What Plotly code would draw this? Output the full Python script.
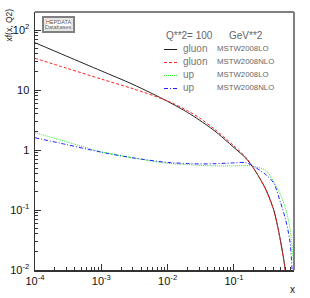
import plotly.graph_objects as go

# ---- data ----
x_vals = [1e-4, 3e-4, 1e-3, 3e-3, 1e-2, 2e-2, 3e-2, 5e-2, 0.1, 0.15, 0.2, 0.3, 0.4, 0.5, 0.6, 0.7, 0.8]
gluon_lo = [61.4, 36.6, 20.8, 12.4, 6.46, 4.22, 3.16, 2.12, 1.10, 0.735, 0.486, 0.224, 0.098, 0.032, 0.0093, 0.0021, 0.0003]
gluon_nlo = [33.7, 23.1, 15.2, 10.5, 6.56, 4.50, 3.44, 2.26, 1.17, 0.76, 0.49, 0.222, 0.097, 0.031, 0.0090, 0.0019, 0.00025]
up_lo = [1.94, 1.37, 0.93, 0.74, 0.60, 0.57, 0.556, 0.543, 0.543, 0.55, 0.53, 0.46, 0.29, 0.183, 0.105, 0.049, 0.011]
up_nlo = [1.60, 1.23, 0.92, 0.74, 0.62, 0.596, 0.586, 0.59, 0.61, 0.615, 0.53, 0.39, 0.277, 0.136, 0.069, 0.029, 0.0025]

series_names = ["gluon", "gluon", "up", "up"]
series_sets = ["MSTW2008LO", "MSTW2008NLO", "MSTW2008LO", "MSTW2008NLO"]
series_colors = ["#222222", "#ff2020", "#22ee22", "#2020ff"]
series_dash = ["solid", "3px,2px", "1px,1px", "4px,2px,1px,2px"]
series_data = [gluon_lo, gluon_nlo, up_lo, up_nlo]

y_tickvals = [0.01, 0.1, 1, 10, 100]
y_ticktext = ["10<sup>-2</sup>", "10<sup>-1</sup>", "1", "10", "10<sup>2</sup>"]
x_tickvals = [1e-4, 1e-3, 1e-2, 1e-1]
x_ticktext = ["10<sup>-4</sup>", "10<sup>-3</sup>", "10<sup>-2</sup>", "10<sup>-1</sup>"]

# ---- layout geometry (pixels) ----
W, H = 310, 298
L, R, T, B = 35, 294, 12, 270


def px(xp):
    return (xp - L) / (R - L)


def py(yp):
    return (B - yp) / (B - T)


fig = go.Figure()
for ys, c, d in zip(series_data, series_colors, series_dash):
    fig.add_trace(go.Scatter(x=x_vals, y=ys, mode="lines",
                             line=dict(color=c, width=1, dash=d, shape="spline", smoothing=0.8),
                             showlegend=False, hoverinfo="skip"))

minor_x = [m * 10 ** e for e in range(-4, 0) for m in range(2, 10)]
minor_y = [m * 10 ** e for e in range(-2, 3) for m in range(2, 10)]

fig.update_xaxes(type="log", range=[-4, -0.095], showgrid=False, zeroline=False, automargin=False,
                 tickmode="array", tickvals=x_tickvals, ticktext=x_ticktext,
                 ticks="inside", ticklen=6, tickcolor="#333", tickwidth=1,
                 showline=True, linecolor="#333", linewidth=1.5,
                 tickfont=dict(family="Liberation Sans", size=11, color="#111"),
                 minor=dict(tickmode="array", tickvals=minor_x, ticks="inside", ticklen=3,
                            tickcolor="#333", showgrid=False))
fig.update_yaxes(type="log", range=[-2, 2.3], showgrid=False, zeroline=False, automargin=False,
                 tickmode="array", tickvals=y_tickvals, ticktext=y_ticktext,
                 ticks="inside", ticklen=6, tickcolor="#333", tickwidth=1,
                 showline=True, linecolor="#333", linewidth=1.5, ticklabelstandoff=2,
                 tickfont=dict(family="Liberation Sans", size=11, color="#111"),
                 minor=dict(tickmode="array", tickvals=minor_y, ticks="inside", ticklen=3,
                            tickcolor="#333", showgrid=False))

shapes = []
annotations = []


def note(text, xp, yp, size, color, family="Liberation Sans", xanchor="left", angle=0):
    annotations.append(dict(text=text, xref="paper", yref="paper", x=px(xp), y=py(yp),
                            xanchor=xanchor, yanchor="middle", textangle=angle,
                            showarrow=False, borderpad=0,
                            font=dict(family=family, size=size, color=color)))


# frame top/right
shapes.append(dict(type="line", xref="paper", yref="paper", x0=0, x1=1, y0=1, y1=1,
                   line=dict(color="#808080", width=2)))
shapes.append(dict(type="line", xref="paper", yref="paper", x0=1, x1=1, y0=0, y1=1,
                   line=dict(color="#808080", width=2)))

# HEPDATA box
shapes.append(dict(type="rect", xref="paper", yref="paper", x0=px(43), x1=px(74), y0=py(32), y1=py(17),
                   line=dict(color="#808080", width=2), fillcolor="white"))
shapes.append(dict(type="rect", xref="paper", yref="paper", x0=px(45), x1=px(72), y0=py(30), y1=py(19),
                   line=dict(color="#aaaaaa", width=0.6)))
note("HEPDATA", 58.5, 21.8, 5.5, "#555", xanchor="center")
note("Databases", 58.5, 27.2, 5.5, "#555", xanchor="center")

# legend header
note("Q**2= 100", 165, 35, 10, "#666")
note("GeV**2", 228, 35, 10, "#666")
rows = [48.5, 61.5, 74.5, 87.5]
for r, n, s, c, d in zip(rows, series_names, series_sets, series_colors, series_dash):
    shapes.append(dict(type="line", xref="paper", yref="paper", x0=px(164), x1=px(177),
                       y0=py(r + 1), y1=py(r + 1), line=dict(color=c, width=1, dash=d)))
    note(n, 182, r, 10, "#777")
    note(s, 216, r, 7.8, "#666")

# axis titles
note("xf(x, Q2)", 8.5, 25, 8.5, "#111", xanchor="center", angle=-90)
note("x", 292, 289, 10, "#111", xanchor="center")

fig.update_layout(width=W, height=H, margin=dict(l=L, r=W - R, t=T, b=H - B, autoexpand=False),
                  paper_bgcolor="white", plot_bgcolor="white",
                  shapes=shapes, annotations=annotations, showlegend=False)

fig.write_html("out.html", config={"displayModeBar": False, "staticPlot": True},
               post_script="document.body.style.margin='0';document.body.style.padding='0';"
                           "document.body.style.overflow='hidden';")
